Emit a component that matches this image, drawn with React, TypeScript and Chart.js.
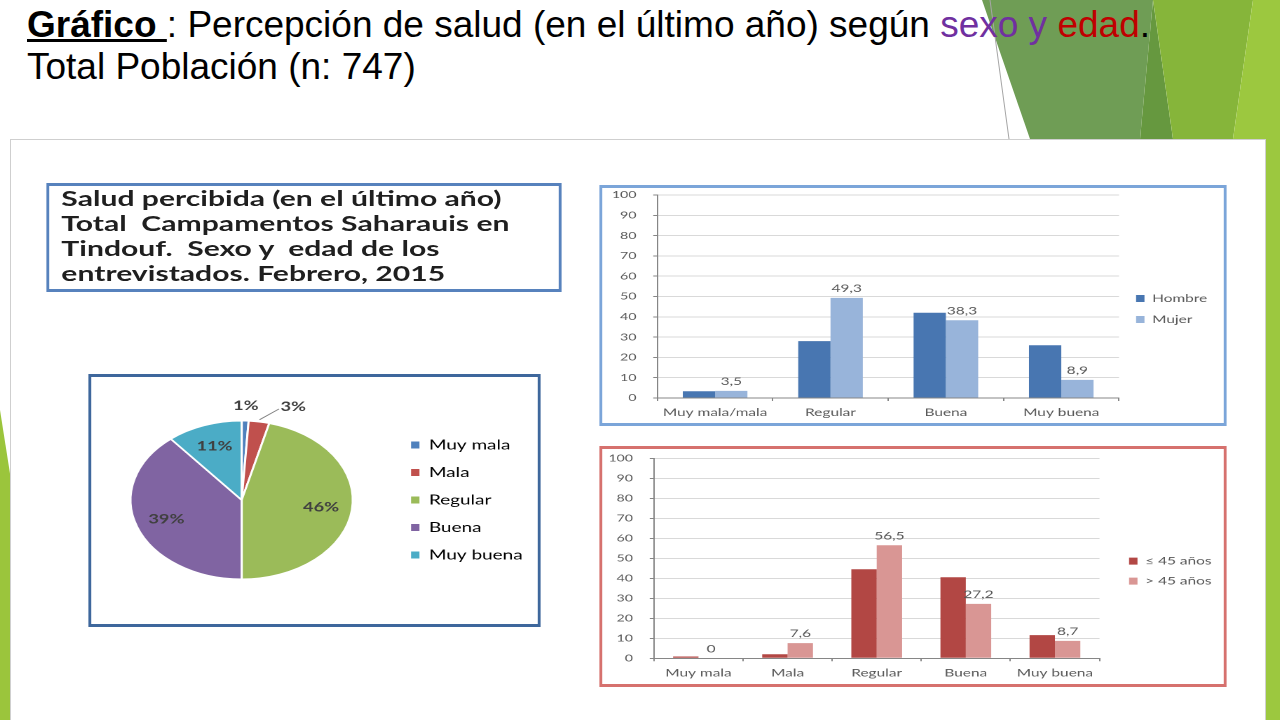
import { useEffect, useRef } from 'react'
import { Chart, registerables } from 'chart.js'

Chart.register(...registerables)

// The pasted picture on the slide is stretched sideways, so the charts are
// laid out narrow and widened with a CSS transform.
const STRETCH = 1.4
const FONT = 'Lato, "Open Sans", sans-serif'

const pieLabels = ['Muy mala', 'Mala', 'Regular', 'Buena', 'Muy buena']
const pieValues = [1, 3, 46, 39, 11]
const pieColors = ['#4f81bd', '#c0504d', '#9bbb59', '#8064a2', '#4bacc6']

const sexCategories = ['Muy mala/mala', 'Regular', 'Buena', 'Muy buena']
const hombreValues = [3.3, 28, 42, 26]
const mujerValues = [3.5, 49.3, 38.3, 8.9]

const ageCategories = ['Muy mala', 'Mala', 'Regular', 'Buena', 'Muy buena']
const youngValues = [0.9, 2, 44.5, 40.5, 11.6]
const olderValues = [0, 7.6, 56.5, 27.2, 8.7]

const Y_MAX = 100
const Y_STEP = 10

const fmt = (v: number) => String(v).replace('.', ',')

// width Chart.js needs for a one-column legend (so it is never clipped)
function legendWidth(labels: string[], size: number, boxWidth: number, padding: number) {
  const ctx = document.createElement('canvas').getContext('2d')!
  ctx.font = `normal ${size}px ${FONT}`
  const text = Math.max(...labels.map((l) => ctx.measureText(l).width))
  return padding + boxWidth + size / 2 + text + 4
}

function barValueLabels(datasetIndex: number) {
  return {
    id: 'barValueLabels',
    afterDatasetsDraw(chart: any) {
      const { ctx } = chart
      const meta = chart.getDatasetMeta(datasetIndex)
      const values = chart.data.datasets[datasetIndex].data as number[]
      ctx.save()
      ctx.font = `11px ${FONT}`
      ctx.fillStyle = '#595959'
      ctx.textAlign = 'center'
      ctx.textBaseline = 'bottom'
      meta.data.forEach((bar: any, i: number) => {
        const { x, y } = bar.getProps(['x', 'y'], true)
        ctx.fillText(fmt(values[i]), x, y - 4)
      })
      ctx.restore()
    },
  }
}

const pieValueLabels = {
  id: 'pieValueLabels',
  afterDatasetsDraw(chart: any) {
    const { ctx } = chart
    const meta = chart.getDatasetMeta(0)
    const values = chart.data.datasets[0].data as number[]
    ctx.save()
    ctx.font = `bold 13px ${FONT}`
    ctx.fillStyle = '#404040'
    ctx.textAlign = 'center'
    ctx.textBaseline = 'middle'
    let small = 0
    meta.data.forEach((arc: any, i: number) => {
      const { x, y, startAngle, endAngle, outerRadius } = arc.getProps(
        ['x', 'y', 'startAngle', 'endAngle', 'outerRadius'],
        true
      )
      const mid = (startAngle + endAngle) / 2
      const text = `${values[i]}%`
      if (values[i] >= 5) {
        const r = outerRadius * 0.72
        ctx.fillText(text, x + Math.cos(mid) * r, y + Math.sin(mid) * r)
        return
      }
      // thin slices get their label outside, the second one pushed aside with a leader line
      const shift = small++ === 0 ? 0 : 22
      const r = outerRadius + 15
      const lx = x + Math.cos(mid) * r + shift
      const ly = y + Math.sin(mid) * r
      if (shift) {
        const w = ctx.measureText(text).width
        ctx.strokeStyle = '#7f7f7f'
        ctx.lineWidth = 0.8
        ctx.beginPath()
        ctx.moveTo(x + Math.cos(mid) * (outerRadius + 2), y + Math.sin(mid) * (outerRadius + 2))
        ctx.lineTo(lx - w / 2 - 1, ly + 2)
        ctx.stroke()
      }
      ctx.fillText(text, lx, ly)
    })
    ctx.restore()
  },
}

const PIE_INNER_W = 322.9 - 5
const PIE_LEGEND_LEFT = 213.1

function PieChart() {
  const canvasRef = useRef<HTMLCanvasElement>(null)

  useEffect(() => {
    if (!canvasRef.current) return
    const labelSize = 13.5
    const labelPadding = 14
    const lw = legendWidth(pieLabels, labelSize, 6, labelPadding)
    const chart = new Chart(canvasRef.current, {
      type: 'pie',
      data: {
        labels: pieLabels,
        datasets: [
          {
            data: pieValues,
            backgroundColor: pieColors,
            borderColor: '#ffffff',
            borderWidth: 1.5,
          },
        ],
      },
      options: {
        animation: false,
        responsive: true,
        maintainAspectRatio: false,
        devicePixelRatio: 2,
        layout: {
          padding: { left: 0.5, top: 43, bottom: 44, right: Math.max(0, PIE_INNER_W - PIE_LEGEND_LEFT - lw) },
        },
        plugins: {
          legend: {
            position: 'right',
            align: 'center',
            maxWidth: lw,
            labels: {
              boxWidth: 6,
              boxHeight: 7,
              padding: labelPadding,
              color: '#404040',
              font: { family: FONT, size: labelSize },
              generateLabels: () =>
                pieLabels.map((text, i) => ({
                  text,
                  fillStyle: pieColors[i],
                  strokeStyle: pieColors[i],
                  lineWidth: 0,
                  hidden: false,
                  index: i,
                })),
            },
          },
          tooltip: { enabled: false },
        },
      } as any,
      plugins: [pieValueLabels],
    })
    return () => chart.destroy()
  }, [])

  return (
    <div
      style={{
        position: 'absolute',
        left: 55.7,
        top: 235,
        width: 322.9,
        height: 253,
        boxSizing: 'border-box',
        border: '3px solid #3e679c',
        borderLeftWidth: 2.5,
        borderRightWidth: 2.5,
        background: '#fff',
      }}
    >
      <div style={{ position: 'relative', width: '100%', height: '100%' }}>
        <canvas ref={canvasRef} />
      </div>
    </div>
  )
}

interface Series {
  label: string
  values: number[]
  color: string
}

interface BarPanelProps {
  categories: string[]
  series: Series[]
  labelled: number
  frameColor: string
  top: number
  axisLeft: number
  plotTop: number
  axisBottom: number
  plotRight: number
  legendX: number
  legendPadding: number
  barFraction: number
}

const BAR_INNER_W = 447.9 - 4

function BarPanel(p: BarPanelProps) {
  const canvasRef = useRef<HTMLCanvasElement>(null)

  useEffect(() => {
    if (!canvasRef.current) return
    const legendSize = 11
    const lw = legendWidth(
      p.series.map((s) => s.label),
      legendSize,
      6,
      p.legendPadding
    )
    const gap = Math.max(0, p.legendX - p.legendPadding - p.plotRight)
    const rightPadding = Math.max(0, BAR_INNER_W - p.plotRight - gap - lw)

    const tickFont = { family: FONT, size: 11 }
    const scales: any = {
      x: {
        grid: {
          display: true,
          drawOnChartArea: false,
          drawTicks: true,
          tickLength: 3,
          offset: true,
          color: '#868686',
        },
        border: { color: '#868686' },
        ticks: { padding: 5, color: '#595959', font: tickFont, maxRotation: 0, autoSkip: false },
        afterFit: (s: any) => {
          s.height = p.axisBottom
        },
      },
      y: {
        min: 0,
        max: Y_MAX,
        ticks: { stepSize: Y_STEP, padding: 12, color: '#595959', font: { family: FONT, size: 10 } },
        grid: { color: '#d9d9d9', tickLength: 3, tickColor: '#868686' },
        border: { color: '#868686' },
        afterFit: (s: any) => {
          s.width = p.axisLeft
          // keep the tick padding from pushing the plot down
          s.paddingTop = 0
          s.paddingBottom = 0
        },
      },
    }
    if (gap > 0) {
      scales.gap = {
        type: 'linear',
        position: 'right',
        grid: { display: false },
        ticks: { display: false },
        border: { display: false },
        afterFit: (s: any) => {
          s.width = gap
          s.paddingTop = 0
          s.paddingBottom = 0
        },
      }
    }

    const chart = new Chart(canvasRef.current, {
      type: 'bar',
      data: {
        labels: p.categories,
        datasets: p.series.map((s) => ({
          label: s.label,
          data: s.values,
          backgroundColor: s.color,
          borderWidth: 0,
          categoryPercentage: p.barFraction,
          barPercentage: 1,
        })),
      },
      options: {
        animation: false,
        responsive: true,
        maintainAspectRatio: false,
        devicePixelRatio: 2,
        layout: { padding: { left: 0, top: p.plotTop, right: rightPadding, bottom: 0 } },
        plugins: {
          legend: {
            position: 'right',
            align: 'center',
            maxWidth: lw,
            labels: {
              boxWidth: 6,
              boxHeight: 7,
              padding: p.legendPadding,
              color: '#595959',
              font: { family: FONT, size: legendSize },
            },
          },
          tooltip: { enabled: false },
        },
        scales,
      } as any,
      plugins: [barValueLabels(p.labelled)],
    })
    return () => chart.destroy()
  }, [])

  return (
    <div
      style={{
        position: 'absolute',
        left: 420.7,
        top: p.top,
        width: 447.9,
        height: 241,
        boxSizing: 'border-box',
        border: `3px solid ${p.frameColor}`,
        borderLeftWidth: 2,
        borderRightWidth: 2,
        background: '#fff',
      }}
    >
      <div style={{ position: 'relative', width: '100%', height: '100%' }}>
        <canvas ref={canvasRef} />
      </div>
    </div>
  )
}

export default function App() {
  return (
    <div
      style={{
        position: 'fixed',
        left: 0,
        top: 0,
        width: 1280,
        height: 720,
        overflow: 'hidden',
        background: '#ffffff',
      }}
    >
      <svg width={1280} height={720} style={{ position: 'absolute', left: 0, top: 0 }}>
        <polygon points="982,0 1153,0 1140,139 1030,139" fill="#6f9d55" />
        <polygon points="1153,0 1173,139 1140,139" fill="#66983f" />
        <polygon points="1153,0 1253,0 1233,139 1173,139" fill="#86b53a" />
        <polygon points="1253,0 1280,0 1280,720 1266,720 1266,139 1233,139" fill="#9cc83f" />
        <polygon points="0,410 11,480 11,720 0,720" fill="#9bc53c" />
        <line x1={990} y1={0} x2={1009} y2={139} stroke="#a6a6a6" strokeWidth={1} />
      </svg>

      <div
        style={{
          position: 'absolute',
          left: 27,
          top: 4,
          fontFamily: '"Liberation Sans", Arial, sans-serif',
          fontSize: 37,
          lineHeight: '42px',
          color: '#000',
          whiteSpace: 'nowrap',
        }}
      >
        <span style={{ fontWeight: 'bold', textDecoration: 'underline' }}>Gráfico </span>
        : Percepción de salud (en el último año) según{' '}
        <span style={{ color: '#7030a0' }}>sexo y</span>{' '}
        <span style={{ color: '#c00000' }}>edad</span>.
        <br />
        Total Población (n: 747)
      </div>

      <div
        style={{
          position: 'absolute',
          left: 10,
          top: 139,
          width: 1256,
          height: 620,
          boxSizing: 'border-box',
          border: '1px solid #cfcfcf',
          background: '#ffffff',
        }}
      />

      <div
        style={{
          position: 'absolute',
          left: 10,
          top: 139,
          width: 1255 / STRETCH,
          height: 581,
          transform: `scaleX(${STRETCH})`,
          transformOrigin: '0 0',
        }}
      >
        <div
          style={{
            position: 'absolute',
            left: 25.7,
            top: 44,
            width: 368.6,
            height: 109,
            boxSizing: 'border-box',
            border: '3px solid #5782bd',
            borderLeftWidth: 2,
            borderRightWidth: 2,
            padding: '0 0 0 9px',
            fontFamily: FONT,
            fontWeight: 'bold',
            fontSize: 21.5,
            lineHeight: '25px',
            color: '#1f1f1f',
            whiteSpace: 'pre',
          }}
        >
          {'Salud percibida (en el último año)\nTotal  Campamentos Saharauis en\nTindouf.  Sexo y  edad de los\nentrevistados. Febrero, 2015'}
        </div>

        <PieChart />

        <BarPanel
          categories={sexCategories}
          series={[
            { label: 'Hombre', values: hombreValues, color: '#4876b1' },
            { label: 'Mujer', values: mujerValues, color: '#98b4da' },
          ]}
          labelled={1}
          frameColor="#7ba5d9"
          top={46}
          axisLeft={39.4}
          plotTop={7}
          axisBottom={25}
          plotRight={368.7}
          legendX={380.9}
          legendPadding={10}
          barFraction={0.56}
        />

        <BarPanel
          categories={ageCategories}
          series={[
            { label: '≤ 45 años', values: youngValues, color: '#b24744' },
            { label: '> 45 años', values: olderValues, color: '#d99694' },
          ]}
          labelled={1}
          frameColor="#d6716e"
          top={307}
          axisLeft={36.9}
          plotTop={9.3}
          axisBottom={25.7}
          plotRight={354.8}
          legendX={375.9}
          legendPadding={9}
          barFraction={0.57}
        />
      </div>
    </div>
  )
}
